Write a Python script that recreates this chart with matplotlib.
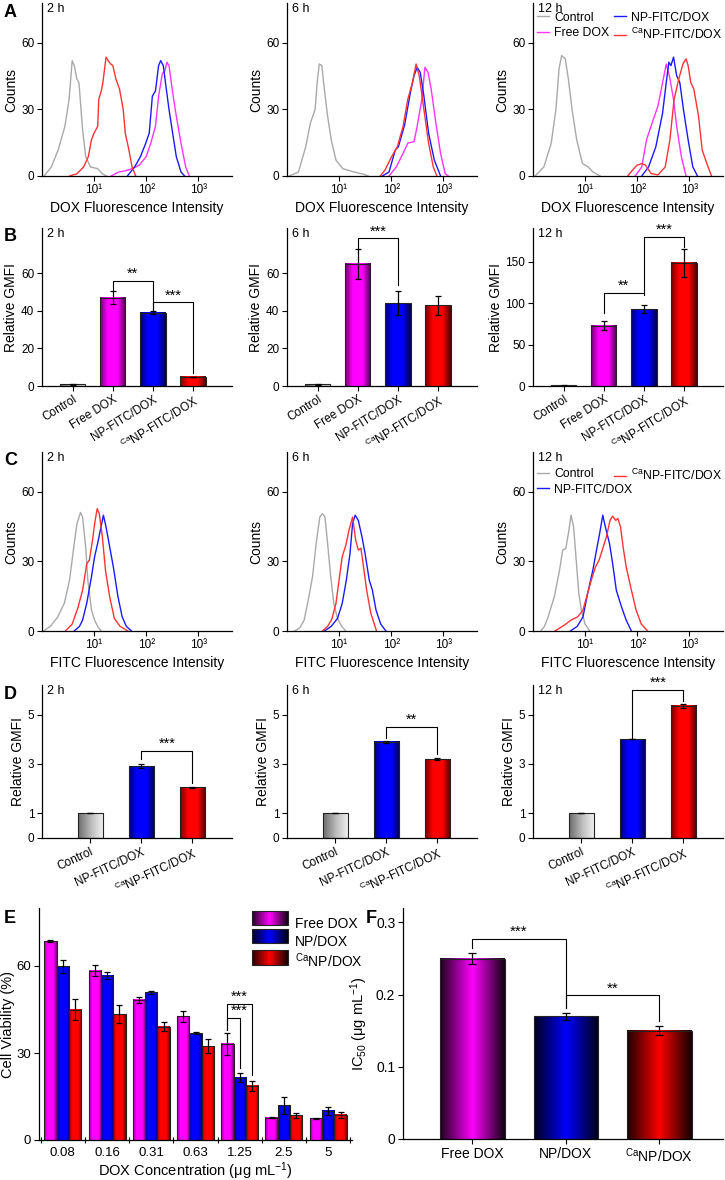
import numpy as np
import matplotlib
matplotlib.use('Agg')
import matplotlib.pyplot as plt
from matplotlib.colors import LinearSegmentedColormap, to_rgb
from matplotlib.patches import Patch, Rectangle
from matplotlib.legend_handler import HandlerBase

plt.rcParams['font.family'] = ['Liberation Sans', 'DejaVu Sans']
plt.rcParams['mathtext.fontset'] = 'custom'
plt.rcParams['mathtext.rm'] = 'Liberation Sans'
plt.rcParams['mathtext.it'] = 'Liberation Sans:italic'
plt.rcParams['font.size'] = 9

# ---------------- data ----------------
times = ['2 h', '6 h', '12 h']

# A: DOX histograms (x = log10 intensity, y = counts)
a2_ctrl_x = [0.04, 0.18, 0.31, 0.44, 0.52, 0.58, 0.62, 0.67, 0.71, 0.78, 0.84, 0.93, 1.07, 1.16, 1.24]
a2_ctrl_y = [0, 4.1, 11.7, 22.4, 34.5, 52, 49.8, 43.7, 42, 20.9, 8.7, 4.1, 3.3, 1, 0]
a2_free_x = [1.33, 1.47, 1.6, 1.73, 1.87, 2.0, 2.09, 2.18, 2.24, 2.31, 2.36, 2.4, 2.44, 2.51, 2.58, 2.67, 2.76, 2.83]
a2_free_y = [0, 1.8, 2.3, 3.3, 4.9, 8.7, 14.8, 22.4, 36, 46, 47.5, 51.3, 49.8, 37.6, 27, 14.8, 4.1, 0]
a2_np_x = [1.64, 1.78, 1.89, 1.98, 2.06, 2.12, 2.18, 2.24, 2.28, 2.33, 2.38, 2.44, 2.51, 2.58, 2.67, 2.74]
a2_np_y = [0, 4.1, 8.7, 14, 19.3, 36, 38.4, 49.8, 52, 49.8, 40.6, 30, 19.3, 8.7, 1.8, 0]
a2_ca_x = [0.53, 0.67, 0.8, 0.89, 0.95, 1.0, 1.07, 1.09, 1.14, 1.17, 1.23, 1.27, 1.32, 1.36, 1.42, 1.49, 1.56, 1.6, 1.67, 1.73, 1.8]
a2_ca_y = [0, 1, 4.1, 8.7, 16.3, 19.3, 22.4, 34.5, 38.4, 42.2, 53.6, 52, 50.5, 49.8, 43.7, 39.1, 30, 19.3, 11.7, 4.1, 0]

a6_ctrl_x = [0.04, 0.22, 0.36, 0.45, 0.54, 0.58, 0.62, 0.67, 0.71, 0.78, 0.85, 0.94, 1.07, 1.29, 1.47, 1.56]
a6_ctrl_y = [0, 1.8, 13.2, 23.9, 30, 42.2, 50.5, 49.8, 40.6, 27, 16.3, 7.2, 3.3, 1.8, 0.8, 0]
a6_free_x = [1.96, 2.1, 2.23, 2.32, 2.44, 2.5, 2.59, 2.65, 2.71, 2.77, 2.86, 2.95, 3.04, 3.1]
a6_free_y = [0, 4.1, 10.2, 14.8, 15.5, 22.4, 34.5, 49, 46.7, 39.1, 23.9, 10.2, 1, 0]
a6_np_x = [1.83, 1.96, 2.08, 2.14, 2.26, 2.37, 2.44, 2.5, 2.56, 2.63, 2.72, 2.83, 2.95]
a6_np_y = [0, 1.8, 11.7, 13.2, 23.1, 37.6, 45.2, 49, 46.7, 36, 19.3, 7.2, 0]
a6_ca_x = [1.79, 1.88, 2.01, 2.12, 2.23, 2.32, 2.41, 2.48, 2.54, 2.63, 2.72, 2.81, 2.88]
a6_ca_y = [0, 2.6, 8.7, 13.2, 22.4, 34.5, 42.2, 50.5, 45.2, 30, 14.8, 4.1, 0]

a12_ctrl_x = [0.04, 0.21, 0.35, 0.44, 0.5, 0.55, 0.62, 0.68, 0.75, 0.84, 0.95, 1.06, 1.15, 1.29]
a12_ctrl_y = [0, 4.1, 14.8, 30, 48.2, 54.3, 52.8, 43.7, 30, 16.3, 5.6, 4.1, 1.8, 0]
a12_free_x = [1.96, 2.09, 2.18, 2.31, 2.4, 2.49, 2.56, 2.62, 2.7, 2.76, 2.85, 2.94]
a12_free_y = [0, 4.1, 16.3, 25.4, 31.5, 42.2, 50.5, 45.2, 34.5, 22.4, 8.7, 0]
a12_np_x = [2.09, 2.22, 2.36, 2.49, 2.56, 2.61, 2.65, 2.7, 2.76, 2.82, 2.89, 2.98, 3.07, 3.16]
a12_np_y = [0, 4.1, 13.2, 28.5, 42.2, 51.3, 49.8, 53.6, 45.2, 42.2, 30, 16.3, 4.1, 0]
a12_ca_x = [1.82, 1.91, 2.0, 2.09, 2.16, 2.27, 2.4, 2.54, 2.63, 2.71, 2.8, 2.88, 2.94, 2.98, 3.03, 3.09, 3.18, 3.25, 3.34, 3.43]
a12_ca_y = [0, 2.6, 4.9, 5.6, 4.9, 1.1, 0.5, 4.1, 16.3, 34.5, 43.7, 50.5, 52.8, 49.8, 42.2, 39.1, 27, 11.7, 5.6, 0]

# B: DOX relative GMFI
b_labels = ['Control', 'Free DOX', 'NP-FITC/DOX', r'$^{\mathrm{Ca}}$NP-FITC/DOX']
b2_vals = [1, 47, 39, 5]
b2_err = [0.3, 3.5, 0.7, 0]
b6_vals = [1, 65, 44, 43]
b6_err = [0.3, 8, 6.5, 5]
b12_vals = [1, 73, 93, 149]
b12_err = [0.5, 5, 5, 17]

# C: FITC histograms
c2_ctrl_x = [0.03, 0.16, 0.3, 0.43, 0.53, 0.61, 0.67, 0.74, 0.78, 0.84, 0.88, 0.95, 1.01, 1.08, 1.14]
c2_ctrl_y = [0, 2, 6, 12, 22, 36, 46, 51, 49, 36, 22, 9, 4.7, 1.5, 0]
c2_np_x = [0.62, 0.72, 0.78, 0.86, 0.95, 1.01, 1.07, 1.12, 1.18, 1.23, 1.3, 1.37, 1.46, 1.54, 1.62, 1.72]
c2_np_y = [0, 2, 4.7, 12, 23.3, 31.9, 37.8, 43.3, 49.8, 44.8, 36.2, 27.6, 14.7, 6.1, 2, 0]
c2_ca_x = [0.45, 0.58, 0.69, 0.78, 0.86, 0.91, 0.97, 1.01, 1.06, 1.1, 1.16, 1.22, 1.3, 1.39, 1.5, 1.65]
c2_ca_y = [0, 3, 10, 17.6, 29, 30.5, 39, 46, 52.6, 50.6, 40.5, 26, 14.7, 5.4, 2, 0]

c6_ctrl_x = [0.15, 0.25, 0.33, 0.42, 0.49, 0.56, 0.63, 0.68, 0.73, 0.78, 0.84, 0.9, 0.97, 1.05, 1.13]
c6_ctrl_y = [0, 1.5, 4.7, 14.7, 23.3, 37.6, 49, 50.5, 49, 37.6, 23.3, 11.8, 5.4, 2, 0]
c6_np_x = [0.72, 0.85, 0.97, 1.06, 1.14, 1.21, 1.26, 1.31, 1.37, 1.44, 1.5, 1.58, 1.64, 1.71, 1.8, 1.9]
c6_np_y = [0, 2, 5.4, 11.8, 21.9, 33.3, 46.2, 49.8, 47.6, 40.5, 33.3, 21.9, 17.6, 9, 3, 0]
c6_ca_x = [0.68, 0.78, 0.86, 0.94, 1.0, 1.06, 1.13, 1.19, 1.26, 1.32, 1.37, 1.42, 1.46, 1.53, 1.61, 1.72]
c6_ca_y = [0, 2, 5, 11.8, 21.9, 31.9, 36.9, 43.3, 49, 39, 34.8, 35.6, 29.2, 17.6, 7.6, 0]

c12_ctrl_x = [0.15, 0.22, 0.28, 0.41, 0.51, 0.57, 0.63, 0.69, 0.73, 0.78, 0.83, 0.88, 0.93, 1.0, 1.09]
c12_ctrl_y = [0, 2, 5.4, 14.7, 26.2, 34.8, 35.5, 43.3, 49.8, 44.8, 30.5, 16.2, 9, 3, 0]
c12_np_x = [0.72, 0.85, 0.96, 1.05, 1.15, 1.22, 1.28, 1.34, 1.39, 1.47, 1.53, 1.6, 1.7, 1.79, 1.89]
c12_np_y = [0, 2, 6.1, 16.2, 26.2, 34.8, 41.9, 49.8, 44.8, 37.6, 29, 17.6, 10.4, 4.7, 0]
c12_ca_x = [0.42, 0.6, 0.73, 0.86, 0.96, 1.03, 1.12, 1.2, 1.27, 1.33, 1.41, 1.48, 1.53, 1.59, 1.63, 1.68, 1.74, 1.79, 1.89, 1.98, 2.08, 2.2]
c12_ca_y = [0, 2.5, 4.7, 6.1, 9, 14.7, 21.9, 27.6, 30.5, 34.8, 40.5, 47.6, 49.4, 47.6, 48.4, 44.8, 34.8, 27.6, 17.6, 9, 3, 0]

# D: FITC relative GMFI
d_labels = ['Control', 'NP-FITC/DOX', r'$^{\mathrm{Ca}}$NP-FITC/DOX']
d2_vals = [1.0, 2.9, 2.05]
d2_err = [0, 0.08, 0.02]
d6_vals = [1.0, 3.9, 3.2]
d6_err = [0, 0.04, 0.05]
d12_vals = [1.0, 4.0, 5.35]
d12_err = [0, 0, 0.08]

# E: cell viability
e_conc = ['0.08', '0.16', '0.31', '0.63', '1.25', '2.5', '5']
e_free = [68.6, 58.4, 48.3, 42.6, 33.2, 7.7, 7.5]
e_free_err = [0.2, 1.8, 1.0, 2.0, 3.8, 0.2, 0.2]
e_np = [59.9, 56.7, 50.9, 36.8, 21.5, 11.9, 10.0]
e_np_err = [2.2, 1.3, 0.6, 0.3, 1.5, 3.0, 1.5]
e_ca = [45.0, 43.4, 39.1, 32.3, 18.7, 8.5, 8.7]
e_ca_err = [3.5, 3.0, 1.5, 2.4, 1.8, 0.8, 1.0]

# F: IC50
f_labels = ['Free DOX', 'NP/DOX', r'$^{\mathrm{Ca}}$NP/DOX']
f_vals = [0.25, 0.17, 0.15]
f_err = [0.007, 0.005, 0.006]

# ---------------- style ----------------
C_CTRL, C_FREE, C_NP, C_CA = '#a9a9a9', '#ff33ff', '#1a1aff', '#ff3333'
BAR_FREE, BAR_NP, BAR_CA, BAR_CTRL = '#ff00ff', '#0000ff', '#ff0000', '#f2f2f2'

STOPS_BD = [(0, 0.45), (0.3, 1), (0.68, 1), (1, 0.3)]
STOPS_F = [(0, 0.12), (0.5, 1), (1, 0.08)]
STOPS_E = [(0, 0.6), (0.25, 1), (0.75, 1), (1, 0.45)]
STOPS_CTRL = [(0, 0.45), (0.55, 0.8), (1, 1.0)]


def shade(color, stops):
    c = np.array(to_rgb(color))
    return LinearSegmentedColormap.from_list('g', [(p, tuple(c * f)) for p, f in stops])


class GradHandler(HandlerBase):
    def __init__(self, cmap):
        super().__init__()
        self.cmap = cmap

    def create_artists(self, legend, orig, xd, yd, w, h, fontsize, trans):
        n = 24
        arts = [Rectangle((xd + w * i / n, yd), w / n, h, facecolor=self.cmap((i + 0.5) / n),
                          edgecolor='none', transform=trans) for i in range(n)]
        arts.append(Rectangle((xd, yd), w, h, fill=False, edgecolor='#222222', lw=0.8, transform=trans))
        return arts


def grad_bars(ax, xs, vals, width, cmaps):
    for x, v, cm in zip(xs, vals, cmaps):
        ax.imshow(np.linspace(0, 1, 64).reshape(1, -1), cmap=cm, aspect='auto',
                  extent=(x - width / 2, x + width / 2, 0, v), zorder=2, interpolation='bilinear')
    ax.bar(xs, vals, width, fill=False, edgecolor='#222222', lw=0.8, zorder=3)


def bracket(ax, x0, x1, y, y0, y1, txt, tx=None, fs=10.5):
    ax.plot([x0, x0, x1, x1], [y0, y, y, y1], color='black', lw=0.8, zorder=5)
    ax.text((x0 + x1) / 2 if tx is None else tx, y, txt, ha='center', va='bottom', fontsize=fs)


def style(ax):
    for s in ['top', 'right']:
        ax.spines[s].set_visible(False)
    for s in ['left', 'bottom']:
        ax.spines[s].set_linewidth(0.9)
    ax.tick_params(direction='out', length=3.5, width=0.8, labelsize=8.5, pad=2)


def pos(xl, ytop, w, ybot):
    return [xl / 725, 1 - ybot / 1180, w / 725, (ybot - ytop) / 1180]


def small_legend(ax, lines, names, x, y):
    return ax.legend(lines, names, loc='upper left', frameon=False, bbox_to_anchor=(x, y),
                     borderaxespad=0, borderpad=0, handlelength=1.0, handletextpad=0.4,
                     labelspacing=0.28, fontsize=8.8)


fig = plt.figure(figsize=(7.25, 11.8), dpi=100)
cols = [42, 287, 533]
W = 190

# ---- A and C: histograms ----
a_sets = [
    [(a2_ctrl_x, a2_ctrl_y, C_CTRL), (a2_free_x, a2_free_y, C_FREE), (a2_np_x, a2_np_y, C_NP), (a2_ca_x, a2_ca_y, C_CA)],
    [(a6_ctrl_x, a6_ctrl_y, C_CTRL), (a6_free_x, a6_free_y, C_FREE), (a6_np_x, a6_np_y, C_NP), (a6_ca_x, a6_ca_y, C_CA)],
    [(a12_ctrl_x, a12_ctrl_y, C_CTRL), (a12_free_x, a12_free_y, C_FREE), (a12_np_x, a12_np_y, C_NP), (a12_ca_x, a12_ca_y, C_CA)],
]
c_sets = [
    [(c2_ctrl_x, c2_ctrl_y, C_CTRL), (c2_np_x, c2_np_y, C_NP), (c2_ca_x, c2_ca_y, C_CA)],
    [(c6_ctrl_x, c6_ctrl_y, C_CTRL), (c6_np_x, c6_np_y, C_NP), (c6_ca_x, c6_ca_y, C_CA)],
    [(c12_ctrl_x, c12_ctrl_y, C_CTRL), (c12_np_x, c12_np_y, C_NP), (c12_ca_x, c12_ca_y, C_CA)],
]
CA_FITC = r'$^{\mathrm{Ca}}$NP-FITC/DOX'

for row, sets, top, bot, ymax, xlab in [
        (0, a_sets, 3, 176, 78, 'DOX Fluorescence Intensity'),
        (2, c_sets, 452, 631, 77, 'FITC Fluorescence Intensity')]:
    for i in range(3):
        ax = fig.add_axes(pos(cols[i], top, W, bot))
        style(ax)
        lines = []
        for xs, ys, col in sets[i]:
            ln, = ax.plot(10 ** np.array(xs), ys, color=col, lw=1.0)
            lines.append(ln)
        ax.set_xscale('log')
        ax.set_xlim(1, 10 ** 3.65)
        ax.set_ylim(0, ymax)
        ax.set_xticks([10, 100, 1000])
        ax.set_xticklabels(['10¹', '10²', '10³'])
        ax.xaxis.set_minor_locator(plt.NullLocator())
        ax.set_yticks([0, 30, 60])
        ax.set_xlabel(xlab, fontsize=10, labelpad=4)
        ax.set_ylabel('Counts', fontsize=10, labelpad=2)
        ax.text(0.025, 1.0, times[i], transform=ax.transAxes, va='top', ha='left', fontsize=9)
        if i == 2:
            if row == 0:
                leg = small_legend(ax, lines[:2], ['Control', 'Free DOX'], 0.02, 0.95)
                ax.add_artist(leg)
                small_legend(ax, lines[2:], ['NP-FITC/DOX', CA_FITC], 0.425, 0.95)
            else:
                leg = small_legend(ax, lines[:2], ['Control', 'NP-FITC/DOX'], 0.02, 0.91)
                ax.add_artist(leg)
                small_legend(ax, lines[2:], [CA_FITC], 0.425, 0.91)

# ---- B: DOX GMFI bars ----
cm_ctrl = shade(BAR_CTRL, STOPS_CTRL)
b_cmaps = [cm_ctrl, shade(BAR_FREE, STOPS_BD), shade(BAR_NP, STOPS_BD), shade(BAR_CA, STOPS_BD)]
b_data = [(b2_vals, b2_err, 84, [0, 20, 40, 60]),
          (b6_vals, b6_err, 84, [0, 20, 40, 60]),
          (b12_vals, b12_err, 191, [0, 50, 100, 150])]
for i, (vals, err, ymax, yt) in enumerate(b_data):
    ax = fig.add_axes(pos(cols[i], 228, W, 386))
    style(ax)
    xs = np.arange(len(vals))
    grad_bars(ax, xs, vals, 0.63, b_cmaps)
    ax.errorbar(xs, vals, yerr=err, fmt='none', ecolor='black', elinewidth=0.9,
                capsize=2.5, capthick=0.9, zorder=4)
    ax.set_xlim(-0.76, 3.97)
    ax.set_ylim(0, ymax)
    ax.set_yticks(yt)
    ax.set_xticks(xs)
    ax.set_xticklabels(b_labels, rotation=32, ha='right', rotation_mode='anchor', fontsize=8.5)
    ax.set_ylabel('Relative GMFI', fontsize=10, labelpad=2)
    ax.text(0.025, 1.0, times[i], transform=ax.transAxes, va='top', ha='left', fontsize=9)
    if i == 0:
        bracket(ax, 1, 2, 56, 51, 40, '**')
        bracket(ax, 2, 3, 44.5, 40, 7, '***')
    elif i == 1:
        bracket(ax, 1, 2, 78.5, 73, 53.5, '***')
    else:
        bracket(ax, 1, 2, 113, 88, 113, '**')
        bracket(ax, 2, 3, 180, 110, 168, '***')

# ---- D: FITC GMFI bars ----
d_cmaps = [cm_ctrl, shade(BAR_NP, STOPS_BD), shade(BAR_CA, STOPS_BD)]
d_data = [(d2_vals, d2_err), (d6_vals, d6_err), (d12_vals, d12_err)]
for i, (vals, err) in enumerate(d_data):
    ax = fig.add_axes(pos(cols[i], 685, W, 838))
    style(ax)
    xs = np.arange(len(vals))
    grad_bars(ax, xs, vals, 0.5, d_cmaps)
    ax.errorbar(xs, vals, yerr=err, fmt='none', ecolor='black', elinewidth=0.9,
                capsize=2.5, capthick=0.9, zorder=4)
    ax.set_xlim(-0.95, 2.78)
    ax.set_ylim(0, 6.2)
    ax.set_yticks([0, 1, 3, 5])
    ax.set_xticks(xs)
    ax.set_xticklabels(d_labels, rotation=25, ha='right', rotation_mode='anchor', fontsize=8.5)
    ax.set_ylabel('Relative GMFI', fontsize=10, labelpad=2)
    ax.text(0.025, 1.0, times[i], transform=ax.transAxes, va='top', ha='left', fontsize=9)
    if i == 0:
        bracket(ax, 1, 2, 3.54, 3.2, 2.24, '***')
    elif i == 1:
        bracket(ax, 1, 2, 4.5, 4.05, 3.4, '**')
    else:
        bracket(ax, 1, 2, 6.0, 4.05, 5.55, '***')

# ---- E: cell viability ----
ax = fig.add_axes(pos(39, 908, 313, 1140))
style(ax)
g = np.arange(len(e_conc))
bw = 0.28
e_cm = [shade(BAR_FREE, STOPS_E), shade(BAR_NP, STOPS_E), shade(BAR_CA, STOPS_E)]
for k, (vals, err) in enumerate([(e_free, e_free_err), (e_np, e_np_err), (e_ca, e_ca_err)]):
    xs = g + (k - 1) * bw
    grad_bars(ax, xs, vals, bw, [e_cm[k]] * len(vals))
    ax.errorbar(xs, vals, yerr=err, fmt='none', ecolor='black', elinewidth=0.9,
                capsize=2.2, capthick=0.9, zorder=4)
ax.set_xlim(-0.54, 6.54)
ax.set_ylim(0, 80)
ax.set_yticks([0, 30, 60])
ax.set_xticks(g)
ax.set_xticklabels(e_conc, fontsize=9.5)
ax.tick_params(axis='x', which='major', length=0, pad=5)
ax.set_xticks(np.arange(-0.5, 7, 1), minor=True)
ax.tick_params(axis='x', which='minor', direction='inout', length=5, width=0.8)
ax.tick_params(axis='y', labelsize=9.5)
ax.set_xlabel(r'DOX Concentration (μg mL$^{-1}$)', fontsize=10.5, labelpad=1)
ax.set_ylabel('Cell Viability (%)', fontsize=10.5, labelpad=1)
bracket(ax, 4 - bw, 4 + bw, 47, 38, 22.5, '***', tx=4.0)
bracket(ax, 4 - bw, 4, 42, 38, 25, '***', tx=4.0)
hands = [Patch(), Patch(), Patch()]
ax.legend(hands, ['Free DOX', 'NP/DOX', r'$^{\mathrm{Ca}}$NP/DOX'],
          handler_map={h: GradHandler(c) for h, c in zip(hands, [shade(BAR_FREE, STOPS_F), shade(BAR_NP, STOPS_F), shade(BAR_CA, STOPS_F)])},
          loc='upper left', bbox_to_anchor=(0.68, 0.965), frameon=False, borderaxespad=0, borderpad=0,
          handlelength=2.6, handleheight=1.25, handletextpad=0.5, labelspacing=0.2, fontsize=10)

# ---- F: IC50 ----
ax = fig.add_axes(pos(403, 908, 320, 1139))
style(ax)
xs = np.arange(len(f_vals))
grad_bars(ax, xs, f_vals, 0.69, [shade(BAR_FREE, STOPS_F), shade(BAR_NP, STOPS_F), shade(BAR_CA, STOPS_F)])
ax.errorbar(xs, f_vals, yerr=f_err, fmt='none', ecolor='black', elinewidth=0.9,
            capsize=3, capthick=0.9, zorder=4)
ax.set_xlim(-0.74, 2.68)
ax.set_ylim(0, 0.32)
ax.set_yticks([0, 0.1, 0.2, 0.3])
ax.set_yticklabels(['0', '0.1', '0.2', '0.3'])
ax.set_xticks(xs)
ax.set_xticklabels(f_labels, fontsize=10)
ax.tick_params(labelsize=10)
ax.set_ylabel(r'IC$_{50}$ (μg mL$^{-1}$)', fontsize=10.5, labelpad=4)
bracket(ax, 0, 1, 0.277, 0.265, 0.181, '***', fs=11)
bracket(ax, 1, 2, 0.199, 0.181, 0.163, '**', fs=11)

# ---- panel letters ----
for letter, x, y in [('A', 4, 4), ('B', 4, 228), ('C', 4, 452), ('D', 4, 686), ('E', 4, 910), ('F', 366, 910)]:
    fig.text(x / 725, 1 - y / 1180, letter, fontsize=13, fontweight='bold', va='top', ha='left')

fig.savefig('out.png', dpi=100)
